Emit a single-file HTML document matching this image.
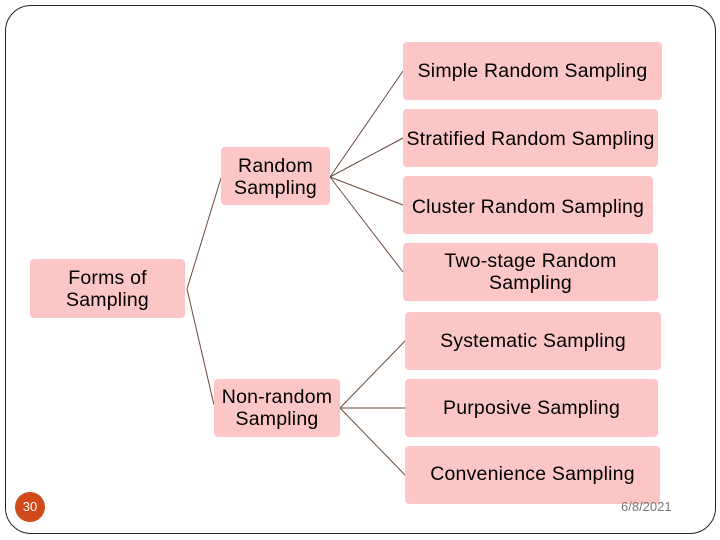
<!DOCTYPE html>
<html><head><meta charset="utf-8"><style>
body{margin:0;width:720px;height:540px;background:#fff;position:relative;overflow:hidden;font-family:"Liberation Sans",sans-serif}
.f{position:absolute;left:5px;top:5px;width:709px;height:527px;border:1.5px solid #222;border-radius:26px}
.b{position:absolute;background:#fcc6c6;border-radius:4px;display:flex;align-items:center;justify-content:center;text-align:center;font-size:19.5px;line-height:22px;color:#000;letter-spacing:0.2px}
svg{position:absolute;left:0;top:0}
</style></head><body>
<div class="f"></div>
<svg width="720" height="540"><g stroke="#6b4a3a" stroke-width="1" fill="none">
<line x1="330" y1="177" x2="403" y2="71"/><line x1="330" y1="177" x2="403" y2="138"/><line x1="330" y1="177" x2="403" y2="205"/><line x1="330" y1="177" x2="403" y2="272"/>
<line x1="187" y1="289" x2="221" y2="178"/><line x1="187" y1="289" x2="214" y2="405"/>
<line x1="340" y1="408" x2="405" y2="341"/><line x1="340" y1="408" x2="405" y2="408"/><line x1="340" y1="408" x2="405" y2="475"/>
</g></svg>
<div class="b" style="left:403px;top:42px;width:259px;height:58px">Simple Random Sampling</div>
<div class="b" style="left:403px;top:109px;width:255px;height:58px;align-items:flex-start;padding-top:19px;box-sizing:border-box">Stratified Random Sampling</div>
<div class="b" style="left:403px;top:176px;width:250px;height:58px;padding-top:4px;box-sizing:border-box">Cluster Random Sampling</div>
<div class="b" style="left:403px;top:243px;width:255px;height:58px">Two-stage Random<br>Sampling</div>
<div class="b" style="left:405px;top:312px;width:256px;height:58px">Systematic Sampling</div>
<div class="b" style="left:405px;top:379px;width:253px;height:58px">Purposive Sampling</div>
<div class="b" style="left:405px;top:446px;width:255px;height:58px;align-items:flex-start;padding-top:17px;box-sizing:border-box">Convenience Sampling</div>
<div class="b" style="left:221px;top:147px;width:109px;height:58px;align-items:flex-start;padding-top:8px;box-sizing:border-box">Random<br>Sampling</div>
<div class="b" style="left:30px;top:259px;width:155px;height:59px">Forms of<br>Sampling</div>
<div class="b" style="left:214px;top:379px;width:126px;height:58px;align-items:flex-start;padding-top:7px;box-sizing:border-box">Non-random<br>Sampling</div>
<div style="position:absolute;left:15px;top:492px;width:30px;height:30px;border-radius:50%;background:#d04a1a;color:#fff;font-size:13px;line-height:30px;text-align:center">30</div>
<div style="position:absolute;left:621px;top:499px;font-size:13px;color:#777">6/8/2021</div>
</body></html>
